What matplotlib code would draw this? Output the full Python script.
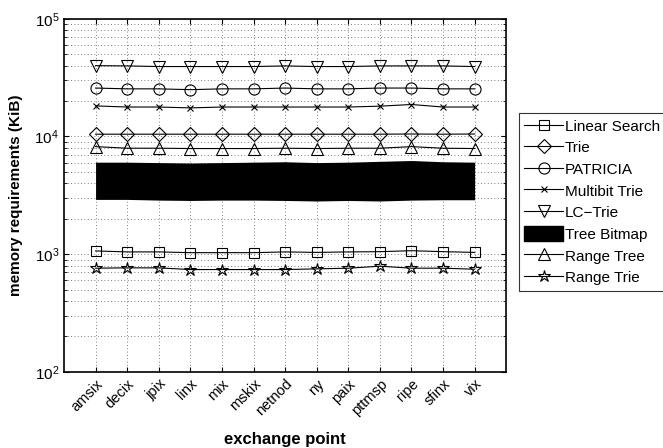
import numpy as np
import matplotlib
matplotlib.use("Agg")
import matplotlib.pyplot as plt
from matplotlib.patches import Patch

plt.rcParams['font.family'] = ['Liberation Sans', 'DejaVu Sans']
plt.rcParams['mathtext.fontset'] = 'custom'
plt.rcParams['mathtext.rm'] = 'Liberation Sans'
plt.rcParams['mathtext.it'] = 'Liberation Sans'

exchanges = ["amsix", "decix", "jpix", "linx", "mix", "mskix", "netnod",
             "ny", "paix", "pttmsp", "ripe", "sfinx", "vix"]

linear_search = [1065, 1045, 1045, 1030, 1030, 1030, 1045, 1035, 1045, 1050, 1070, 1050, 1035]
trie = [10460, 10460, 10460, 10460, 10460, 10460, 10460, 10460, 10460, 10460, 10500, 10460, 10500]
patricia = [25800, 25400, 25400, 25000, 25400, 25400, 25800, 25400, 25400, 25800, 25800, 25400, 25400]
multibit = [18200, 17800, 17800, 17500, 17800, 17800, 17800, 17800, 17800, 18100, 18700, 17800, 17800]
lc_trie = [40000, 39800, 39300, 39300, 39300, 39300, 39800, 39300, 39300, 39800, 39800, 39800, 39300]
bitmap_top = [6050, 6050, 6000, 5950, 6000, 6050, 6100, 6000, 6050, 6150, 6250, 6100, 6050]
bitmap_bottom = [2920, 2920, 2880, 2860, 2880, 2880, 2860, 2830, 2860, 2830, 2880, 2900, 2900]
range_tree = [8200, 7950, 7950, 7900, 7900, 7900, 7950, 7900, 7950, 7950, 8200, 7950, 7900]
range_trie = [760, 765, 765, 740, 740, 740, 740, 750, 760, 790, 760, 760, 745]

x = np.arange(1, len(exchanges) + 1)

fig = plt.figure(figsize=(6.63, 4.48), dpi=100)
ax = fig.add_axes([0.0965, 0.170, 0.667, 0.788])

ax.fill_between(x, bitmap_bottom, bitmap_top, color='black', lw=0, zorder=2)

base = dict(color='black', lw=0.8, fillstyle='none', markeredgewidth=0.8, zorder=3)
ax.plot(x, linear_search, marker='s', markersize=7, **base)
ax.plot(x, trie, marker='D', markersize=7, **base)
ax.plot(x, patricia, marker='o', markersize=8, **base)
ax.plot(x, multibit, marker='x', markersize=5, **base)
ax.plot(x, lc_trie, marker='v', markersize=9, **base)
ax.plot(x, range_tree, marker='^', markersize=9, **base)
ax.plot(x, range_trie, marker='*', markersize=9, **base)

ax.set_yscale('log')
ax.set_ylim(1e2, 1e5)
ax.set_xlim(0, len(exchanges) + 1)
ax.set_xticks(x)
ax.set_xticklabels(exchanges, rotation=45, ha='right', rotation_mode='anchor', fontsize=10.5)
ax.tick_params(axis='both', which='both', direction='in', top=True, right=True)
ax.tick_params(axis='x', which='minor', bottom=False, top=False)
ax.tick_params(axis='y', labelsize=11)
grid_style = dict(ls=(0, (1, 3)), color='#555555', lw=0.6)
ax.grid(True, which='major', axis='x', **grid_style)
ax.grid(True, which='both', axis='y', **grid_style)
ax.set_axisbelow(True)
for s in ax.spines.values():
    s.set_linewidth(1.2)

ax.set_xlabel("exchange point", fontsize=12, fontweight='bold', labelpad=10)
ax.set_ylabel("memory requirements (KiB)", fontsize=11, fontweight='bold', labelpad=8)

h = ax.get_lines()
handles = [h[0], h[1], h[2], h[3], h[4], Patch(facecolor='black', edgecolor='black'), h[5], h[6]]
labels = ["Linear Search", "Trie", "PATRICIA", "Multibit Trie", "LC\u2212Trie",
          "Tree Bitmap", "Range Tree", "Range Trie"]
leg = fig.legend(handles, labels, loc='upper left', bbox_to_anchor=(0.783, 0.748),
                 fontsize=11, frameon=True, fancybox=False, edgecolor='black',
                 borderpad=0.35, labelspacing=0.4, handlelength=2.5, handleheight=1.1,
                 handletextpad=0.15, borderaxespad=0)
leg.get_frame().set_linewidth(0.8)

fig.savefig("out.png", dpi=100)
